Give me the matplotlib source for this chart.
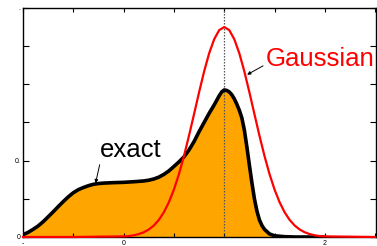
import numpy as np
import matplotlib
matplotlib.use("Agg")
import matplotlib.pyplot as plt

plt.rcParams['font.family'] = ['Liberation Sans', 'DejaVu Sans']

# exact distribution (black curve, filled orange)
x_exact = [-1.0, -0.95, -0.9, -0.85, -0.8, -0.75, -0.7, -0.65, -0.6, -0.55,
           -0.5, -0.45, -0.4, -0.35, -0.3, -0.25, -0.2, -0.1, 0.0, 0.1,
           0.2, 0.25, 0.3, 0.35, 0.4, 0.45, 0.5, 0.55, 0.6, 0.65,
           0.7, 0.75, 0.8, 0.85, 0.9, 0.95, 0.975, 1.0, 1.025, 1.05,
           1.075, 1.1, 1.125, 1.15, 1.175, 1.2, 1.225, 1.25, 1.275, 1.3,
           1.325, 1.35, 1.375, 1.4, 1.45, 1.5, 1.6, 1.7, 2.0]
y_exact = [0.015, 0.03, 0.05, 0.072, 0.10, 0.132, 0.165, 0.199, 0.232, 0.263,
           0.290, 0.310, 0.324, 0.336, 0.345, 0.350, 0.353, 0.356, 0.358, 0.362,
           0.367, 0.372, 0.380, 0.392, 0.410, 0.433, 0.462, 0.492, 0.525, 0.570,
           0.625, 0.690, 0.750, 0.810, 0.865, 0.925, 0.950, 0.963, 0.960, 0.950,
           0.932, 0.905, 0.870, 0.830, 0.780, 0.700, 0.590, 0.470, 0.355, 0.250,
           0.170, 0.111, 0.075, 0.050, 0.020, 0.008, 0.002, 0.0, 0.0]

# gaussian approximation (red curve)
x_gauss = [-1.0, -0.5, 0.0, 0.05, 0.1, 0.15, 0.2, 0.25, 0.3, 0.35,
           0.4, 0.45, 0.5, 0.55, 0.6, 0.65, 0.7, 0.75, 0.8, 0.85,
           0.9, 0.95, 1.0, 1.05, 1.1, 1.15, 1.2, 1.25, 1.3, 1.35,
           1.4, 1.45, 1.5, 1.55, 1.6, 1.65, 1.7, 1.75, 1.8, 1.85,
           1.9, 1.95, 2.0, 2.5]
y_gauss = [0.0, 0.0, 0.004, 0.006, 0.011, 0.019, 0.031, 0.049, 0.075, 0.112,
           0.162, 0.228, 0.311, 0.412, 0.531, 0.664, 0.805, 0.948, 1.084, 1.203,
           1.295, 1.355, 1.375, 1.355, 1.295, 1.203, 1.084, 0.948, 0.805, 0.664,
           0.531, 0.412, 0.311, 0.228, 0.162, 0.112, 0.075, 0.049, 0.031, 0.019,
           0.011, 0.006, 0.004, 0.0]

x_peak = 1.0

fig = plt.figure(figsize=(3.77, 2.46), dpi=100)
ax = fig.add_axes([0.061, 0.0366, 0.936, 0.931])

ax.fill_between(x_exact, y_exact, 0, color='#FFA500', lw=0, zorder=1)
ax.axvline(x_peak, color='#555555', ls=(0, (1.2, 1.2)), lw=0.9, zorder=2)
ax.plot(x_exact, y_exact, color='black', lw=2.6, zorder=3,
        solid_capstyle='round')
ax.plot(x_gauss, y_gauss, color='red', lw=1.6, zorder=4, clip_on=False)

ax.annotate('exact', xy=(-0.279, 0.352), xytext=(-0.232, 0.524),
            fontsize=18.5, color='black', ha='left', va='baseline',
            arrowprops=dict(arrowstyle='-|>', color='black', lw=0.7,
                            mutation_scale=5, shrinkA=0, shrinkB=0,
                            relpos=(0.0, 0.0)))
ax.annotate('', xy=(1.227, 1.063), xytext=(1.386, 1.121),
            arrowprops=dict(arrowstyle='-|>', color='black', lw=0.7,
                            mutation_scale=5, shrinkA=0, shrinkB=0))
ax.text(1.415, 1.121, 'Gaussian', fontsize=18.5, color='red',
        ha='left', va='baseline')

ax.set_xlim(-1, 2.507)
ax.set_ylim(0, 1.5)

ax.set_xticks([-1, 0, 2])
ax.set_xticklabels(['-', '0', '2'])
ax.set_xticks(np.arange(-0.5, 2.51, 0.5), minor=True)
ax.set_yticks([0, 0.5, 1.5])
ax.set_yticklabels(['0', '0.', '.'])
ax.set_yticks(np.arange(0, 1.51, 0.25), minor=True)

ax.tick_params(which='both', direction='in', top=True, right=True,
               labelsize=5, pad=2, width=0.8)
ax.tick_params(axis='x', which='both', length=3)
ax.tick_params(axis='y', which='both', length=4.5)
for s in ax.spines.values():
    s.set_linewidth(1.0)

fig.savefig('out.png', dpi=100)
